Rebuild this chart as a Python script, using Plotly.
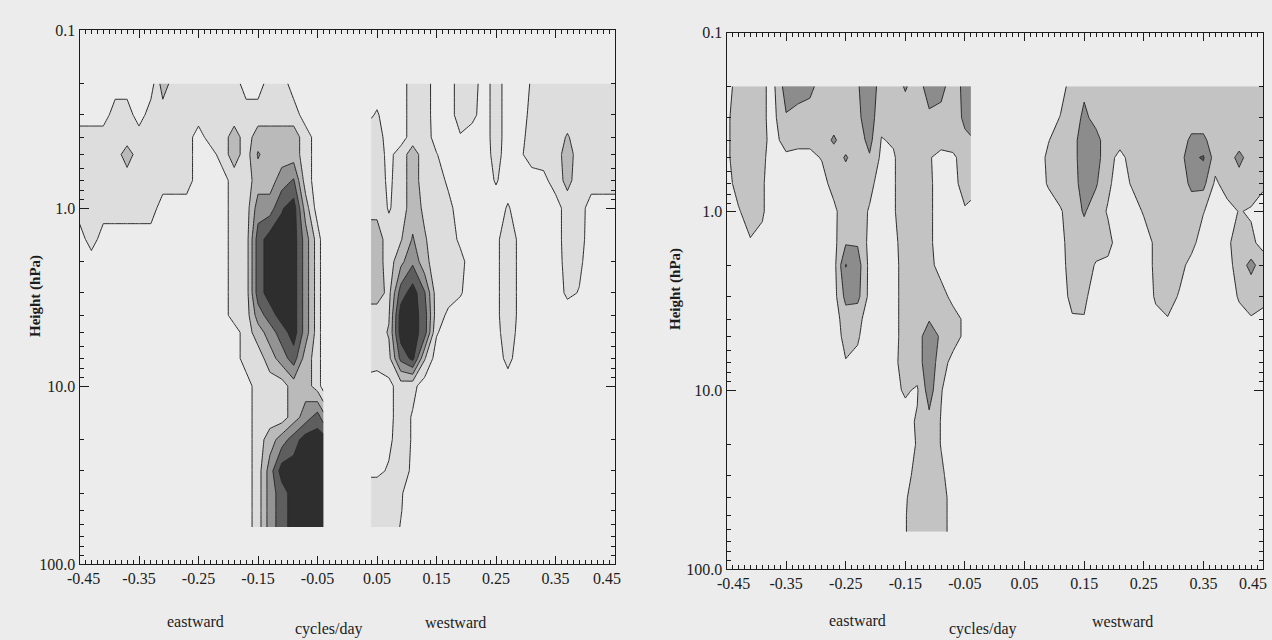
import plotly.graph_objects as go

# Frequency grids (cycles/day): negative = eastward, positive = westward
freq_east = [-0.45, -0.43, -0.41, -0.39, -0.37, -0.35, -0.33, -0.31, -0.29, -0.27, -0.25,
             -0.23, -0.21, -0.19, -0.17, -0.15, -0.13, -0.11, -0.09, -0.07, -0.05, -0.04]
freq_west = [0.04, 0.05, 0.07, 0.09, 0.11, 0.13, 0.15, 0.17, 0.19, 0.21, 0.23, 0.25,
             0.27, 0.29, 0.31, 0.33, 0.35, 0.37, 0.39, 0.41, 0.43, 0.45]
# Pressure levels (hPa), top to bottom
pressure = [0.2, 0.3, 0.4, 0.5, 0.7, 1.0, 1.5, 2.0, 3.0, 4.0, 5.0, 7.0,
            10.0, 15.0, 20.0, 30.0, 40.0, 50.0, 62.0]

# Spectral amplitude, expressed in contour-interval units (one row per pressure level)
left_east = [
    "0 0 0 0 0 0 0 2 1 1 1 1 1 1 0 0 1 1 0 0 0 0",
    "0 0 0 1 1 0 1 1 1 1 1 1 1 1 1 1 1 1 1 0 0 0",
    "1 1 1 1 1 1 1 1 1 1 0 1 1 2 1 2 2 2 2 1 0 0",
    "1 1 1 1 2 1 1 1 1 1 0 0 1 2 1 2.6 2 2 2 1 0 0",
    "1 1 1 1 1 1 1 1 1 1 0 0 0 1 1 2 2 3 3.6 1 0 0",
    "1 1 1 1 1 1 1 0 0 0 0 0 0 1 1 3 3 4.4 5 2 0 0",
    "0 1 0 0 0 0 0 0 0 0 0 0 0 1 1 4 5 5 5 3 1 0",
    "0 0 0 0 0 0 0 0 0 0 0 0 0 1 1 4 5 5 5 3 1 0",
    "0 0 0 0 0 0 0 0 0 0 0 0 0 1 1 4 5 5 5 3 1 0",
    "0 0 0 0 0 0 0 0 0 0 0 0 0 1 1 3 4 5 5 3 1 0",
    "0 0 0 0 0 0 0 0 0 0 0 0 0 0 1 2 3 4 5 3 1 0",
    "0 0 0 0 0 0 0 0 0 0 0 0 0 0 1 1 2 3 4 2 1 0",
    "0 0 0 0 0 0 0 0 0 0 0 0 0 0 0 1 1 1 2 2 1 0",
    "0 0 0 0 0 0 0 0 0 0 0 0 0 0 0 1 1 1 2 3 4 3",
    "0 0 0 0 0 0 0 0 0 0 0 0 0 0 0 1 2 3 4 5 5 5",
    "0 0 0 0 0 0 0 0 0 0 0 0 0 0 0 1 3 5 5 5 5 5",
    "0 0 0 0 0 0 0 0 0 0 0 0 0 0 0 1 3 4 5 5 5 5",
    "0 0 0 0 0 0 0 0 0 0 0 0 0 0 0 1 3 4 5 5 5 5",
    "0 0 0 0 0 0 0 0 0 0 0 0 0 0 0 1 3 4 5 5 5 5",
]
left_west = [
    "0 0 0 0 1 1 0 0 1 1 0 1 0 0 0.6 1 1 1 1 1 1 1",
    "0.4 0.6 0 0 1 1 0 0 1 0.8 0 1 0 0 0.8 1 1 1 1 1 1 1",
    "1 1 0 0 1 1 0.1 0 0.4 0 0 1 0 0.1 1 1 1 1.6 1 1 1 1",
    "1 1 0.2 1 2 1 0.55 0 0 0 0 0.9 0 0.3 1 1 1 2 1 1 1 1",
    "1 1 0.3 1 2 1 1 0.3 0 0 0 0.6 0 0 0 0.2 1 1.8 1 1 1 1",
    "1.2 1.2 0.4 1 2 1.3 1 0.8 0 0 0 0 0.6 0 0 0 0 1 1 0 0 0",
    "2 2 1 1.4 2.6 1.6 1 1 0.3 0 0 0.3 1 0.3 0 0 0 1 0.9 0 0 0",
    "2 2 1 2.2 3.3 1.8 1 1 0.8 0 0 0.3 1 0.3 0 0 0 0.9 0.7 0 0 0",
    "2 2 1.2 4 5 3.6 1 0.9 0.6 0 0 0.3 1 0.3 0 0 0 0.7 0.45 0 0 0",
    "1 1 1.4 5 5 4 1 0.3 0 0 0 0.3 1 0.3 0 0 0 0 0 0 0 0",
    "1 1 1.6 5 5 4 0.6 0 0 0 0 0.2 1 0.2 0 0 0 0 0 0 0 0",
    "1 0.9 1.2 3.8 4.8 1.6 0 0 0 0 0 0 0.8 0 0 0 0 0 0 0 0 0",
    "0 0 0.2 1 0.8 0 0 0 0 0 0 0 0 0 0 0 0 0 0 0 0 0",
    "0 0 0.2 1 0.4 0 0 0 0 0 0 0 0 0 0 0 0 0 0 0 0 0",
    "0 0 0.3 1 0.4 0 0 0 0 0 0 0 0 0 0 0 0 0 0 0 0 0",
    "0.3 0.3 0.6 1 0.3 0 0 0 0 0 0 0 0 0 0 0 0 0 0 0 0 0",
    "1 1 1 0.6 0 0 0 0 0 0 0 0 0 0 0 0 0 0 0 0 0 0",
    "1 1 1 0.55 0 0 0 0 0 0 0 0 0 0 0 0 0 0 0 0 0 0",
    "1 1 1 0.45 0 0 0 0 0 0 0 0 0 0 0 0 0 0 0 0 0 0",
]
right_east = [
    "0 1 1 0.55 0.4 2 2 1.8 1 1 1 1.4 2.2 1 1 1.6 1 2 1.8 1 1.8 2",
    "0.3 1 1 0.6 0.3 1.4 1.1 1 1 1 1 1.3 2 0.8 0.8 1 1 1.3 1.2 1 1.7 1.9",
    "0.3 1 1 0.7 0.2 0.9 0.7 0.7 1 1.65 1 1 1.8 0.45 0.6 1 1 1 1 1 1.3 1.4",
    "0.3 1 1 0.7 0 0.3 0.3 0.3 0.55 1 1.6 1 1.4 0.3 0.4 1 1 0.6 0.1 0.3 1 1",
    "0.1 0.9 1 0.6 0 0 0 0 0.2 0.8 1 1 0.8 0 0.4 1 1 0.7 0 0.2 0.9 0.8",
    "0 0.4 1 0.6 0 0 0 0 0 0.3 1 1 0.4 0 0.4 1 1 0.7 0 0 0.4 0.3",
    "0 0 0.4 0.3 0 0 0 0 0 0.2 1.4 1.4 0.2 0 0.2 1 1 0.7 0 0 0 0",
    "0 0 0 0 0 0 0 0 0 0.1 2.55 2 0.2 0 0.1 1 1 0.8 0.1 0 0 0",
    "0 0 0 0 0 0 0 0 0 0.1 1.8 1.8 0.2 0 0.1 1 1 1 0.9 0.2 0 0",
    "0 0 0 0 0 0 0 0 0 0 1 0.8 0 0 0.1 1 1 1.4 1 0.9 0.3 0",
    "0 0 0 0 0 0 0 0 0 0 0.8 0.6 0 0 0.1 1 1 2.2 1.3 0.9 0.3 0",
    "0 0 0 0 0 0 0 0 0 0 0.45 0.3 0 0 0.2 1 1 2.2 0.9 0.2 0 0",
    "0 0 0 0 0 0 0 0 0 0 0 0 0 0 0.3 0.6 0.4 2 0.55 0 0 0",
    "0 0 0 0 0 0 0 0 0 0 0 0 0 0 0 0.2 0.6 1.2 0.45 0 0 0",
    "0 0 0 0 0 0 0 0 0 0 0 0 0 0 0 0.2 0.55 1.2 0.45 0 0 0",
    "0 0 0 0 0 0 0 0 0 0 0 0 0 0 0 0.2 0.8 1 0.7 0 0 0",
    "0 0 0 0 0 0 0 0 0 0 0 0 0 0 0 0.4 1 1 0.9 0.1 0 0",
    "0 0 0 0 0 0 0 0 0 0 0 0 0 0 0 0.45 1 1 0.9 0.1 0 0",
    "0 0 0 0 0 0 0 0 0 0 0 0 0 0 0 0.45 1 1 0.9 0.1 0 0",
]
right_west = [
    "0 0 0 0 0 1 1.3 1 1 1 1 1 1 1 1 1 1 1 1 1 1 1",
    "0 0 0 0 0.55 1 1.7 1.2 1 1 1 1 1 1 1 1 1 1 1 1 1 1",
    "0 0 0 0.45 1 1 2.2 1.8 1 1 1 1 1 1 1 1.7 1.7 1 1 1 1 1",
    "0 0 0 0.7 1 1 2.2 1.8 1 0.1 1 1 1 1 1 2.3 2.6 1 1 1.8 1 1",
    "0 0 0 0.6 1 1 2 1.6 0.7 0 0.6 1 1 1 1 1.7 1.8 0.3 1 1 1 0.7",
    "0 0 0 0 0.4 1 1.6 1 0.4 0 0 0.6 1 1 1 1 0.55 0 0.1 0.55 0.4 0",
    "0 0 0 0 0.2 1 1 1 0.8 0 0 0 0.7 1 1 0.8 0 0 0.3 1 0.7 0.2",
    "0 0 0 0 0.1 1 1 0.4 0.3 0 0 0 0.7 1 0.8 0.2 0 0 0.1 1 1.8 1",
    "0 0 0 0 0 0.8 0.7 0 0 0 0 0 0.6 0.9 0.4 0 0 0 0 0.6 0.8 0.7",
    "0 0 0 0 0 0.4 0.45 0 0 0 0 0 0.3 0.45 0 0 0 0 0 0.2 0.45 0.3",
    "0 0 0 0 0 0 0 0 0 0 0 0 0 0 0 0 0 0 0 0 0 0",
    "0 0 0 0 0 0 0 0 0 0 0 0 0 0 0 0 0 0 0 0 0 0",
    "0 0 0 0 0 0 0 0 0 0 0 0 0 0 0 0 0 0 0 0 0 0",
    "0 0 0 0 0 0 0 0 0 0 0 0 0 0 0 0 0 0 0 0 0 0",
    "0 0 0 0 0 0 0 0 0 0 0 0 0 0 0 0 0 0 0 0 0 0",
    "0 0 0 0 0 0 0 0 0 0 0 0 0 0 0 0 0 0 0 0 0 0",
    "0 0 0 0 0 0 0 0 0 0 0 0 0 0 0 0 0 0 0 0 0 0",
    "0 0 0 0 0 0 0 0 0 0 0 0 0 0 0 0 0 0 0 0 0 0",
    "0 0 0 0 0 0 0 0 0 0 0 0 0 0 0 0 0 0 0 0 0 0",
]

# Major frequency ticks; the two outermost labels are set as separate text,
# nudged inward so they stay inside the frame
x_tick_vals = [-0.45, -0.35, -0.25, -0.15, -0.05, 0.05, 0.15, 0.25, 0.35, 0.45]
x_tick_text = ["", "-0.35", "-0.25", "-0.15", "-0.05", "0.05", "0.15", "0.25", "0.35", ""]
y_tick_vals = [0.1, 1.0, 10.0, 100.0]
y_tick_text = ["0.1", "1.0", "10.0", "100.0"]
y_minor_vals = [0.2, 0.3, 0.4, 0.5, 0.6, 0.7, 0.8, 0.9, 2, 3, 4, 5, 6, 7, 8, 9,
                20, 30, 40, 50, 60, 70, 80, 90]

PAPER = "#ececec"
LEFT_SHADES = [PAPER, "#dddddd", "#bababa", "#939393", "#5e5e5e", "#2e2e2e"]
RIGHT_SHADES = [PAPER, "#c3c3c3", "#8c8c8c", "#555555"]
FONT = "Liberation Serif"
INK = "#1c1c1c"


def grid(rows):
    return [[float(v) for v in r.split()] for r in rows]


def step_scale(shades):
    n = len(shades) - 1
    scale = []
    for i, c in enumerate(shades):
        lo = 0.0 if i == 0 else (i - 0.5) / n
        hi = 1.0 if i == n else (i + 0.5) / n
        scale += [[lo, c], [hi, c]]
    return scale


def panel_trace(freqs, rows, shades, xa, ya):
    return go.Contour(
        x=freqs, y=pressure, z=grid(rows),
        autocontour=False,
        contours=dict(start=0.5, end=len(shades) - 1.5, size=1,
                      coloring="fill", showlines=True),
        colorscale=step_scale(shades), showscale=False,
        line=dict(color="#2b2b2b", width=1, smoothing=0),
        xaxis=xa, yaxis=ya, hoverinfo="skip",
    )


fig = go.Figure()
fig.add_trace(panel_trace(freq_east, left_east, LEFT_SHADES, "x", "y"))
fig.add_trace(panel_trace(freq_west, left_west, LEFT_SHADES, "x", "y"))
fig.add_trace(panel_trace(freq_east, right_east, RIGHT_SHADES, "x2", "y2"))
fig.add_trace(panel_trace(freq_west, right_west, RIGHT_SHADES, "x2", "y2"))

W, H = 1272, 640


def xaxis_style(x0, x1, anchor):
    return dict(
        domain=[x0 / W, x1 / W], range=[-0.45, 0.45], anchor=anchor,
        tickmode="array", tickvals=x_tick_vals, ticktext=x_tick_text,
        ticks="inside", ticklen=8, tickwidth=1, tickcolor=INK,
        minor=dict(ticks="inside", ticklen=4, tickwidth=1, tickcolor=INK,
                   tickmode="linear", tick0=0, dtick=0.01, showgrid=False),
        showline=True, linecolor=INK, linewidth=1.2, mirror="allticks",
        showgrid=False, zeroline=False, automargin=False,
        tickfont=dict(family=FONT, size=16, color=INK),
    )


def yaxis_style(top, bottom, anchor):
    return dict(
        domain=[1 - bottom / H, 1 - top / H], type="log", range=[2, -1],
        tickmode="array", tickvals=y_tick_vals, ticktext=y_tick_text,
        ticks="inside", ticklen=9, tickwidth=1, tickcolor=INK,
        minor=dict(ticks="inside", ticklen=4, tickwidth=1, tickcolor=INK,
                   tickmode="array", tickvals=y_minor_vals, showgrid=False),
        showline=True, linecolor=INK, linewidth=1.2, mirror="allticks",
        showgrid=False, zeroline=False, anchor=anchor, automargin=False,
        tickfont=dict(family=FONT, size=16, color=INK),
    )


fig.update_layout(
    width=W, height=H, margin=dict(l=0, r=0, t=0, b=0, autoexpand=False),
    paper_bgcolor=PAPER, plot_bgcolor=PAPER, showlegend=False,
    xaxis=xaxis_style(79.5, 615, "y"),
    yaxis=yaxis_style(30, 564, "x"),
    xaxis2=xaxis_style(726.5, 1263, "y2"),
    yaxis2=yaxis_style(32.5, 569, "x2"),
)

labels = [
    ("<b>Height (hPa)</b>", 35, 296, -90, 15),
    ("<b>Height (hPa)</b>", 675, 289, -90, 15),
    ("eastward", 195, 621, 0, 16),
    ("cycles/day", 329, 629, 0, 16),
    ("westward", 456, 622, 0, 16),
    ("eastward", 857, 620, 0, 16),
    ("cycles/day", 983, 629, 0, 16),
    ("westward", 1122, 621, 0, 16),
    ("-0.45", 83, 578, 0, 16),
    ("0.45", 607, 578, 0, 16),
    ("-0.45", 733, 583, 0, 16),
    ("0.45", 1253, 583, 0, 16),
]
for text, px, py, ang, size in labels:
    fig.add_annotation(
        text=text, x=px / W, y=1 - py / H, xref="paper", yref="paper",
        xanchor="center", yanchor="middle", showarrow=False, textangle=ang,
        font=dict(family=FONT, size=size, color=INK),
    )

fig.write_html("out.html")
